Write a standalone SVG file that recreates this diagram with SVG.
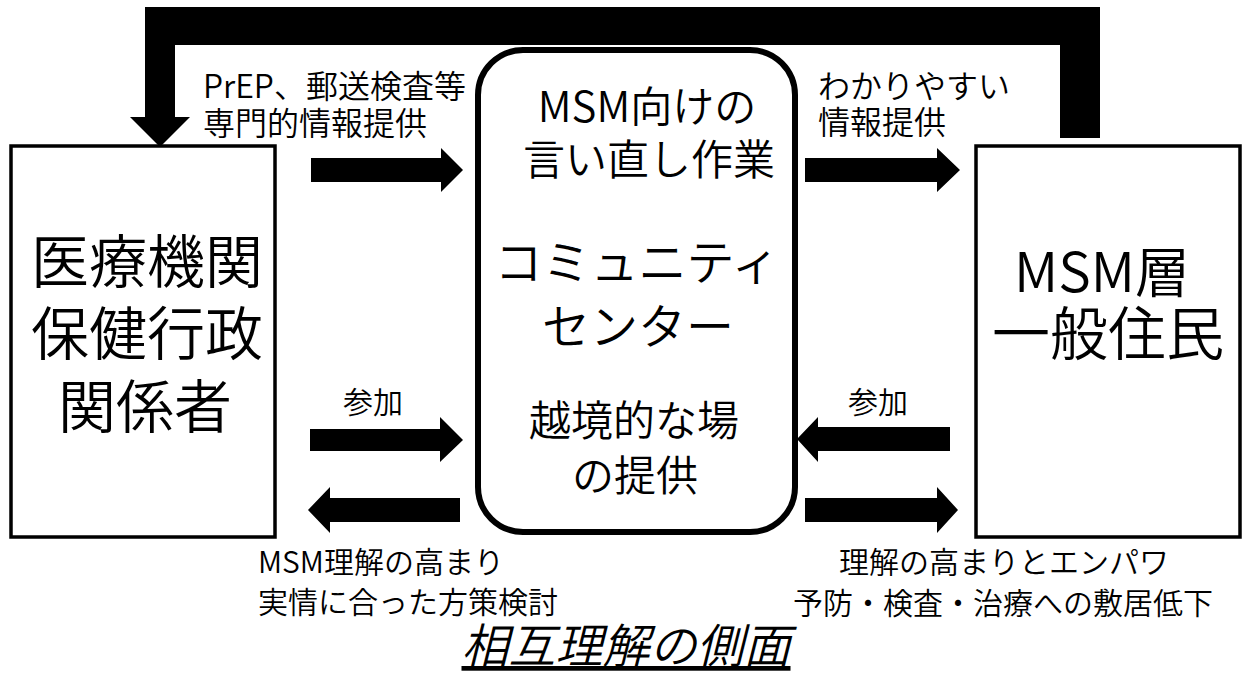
<svg xmlns="http://www.w3.org/2000/svg" width="1246" height="677" viewBox="0 0 1246 677">
<style>
text{font-family:"Noto Sans CJK JP","Noto Sans",sans-serif;fill:#000;font-weight:350}
.box{fill:#fff;stroke:#000;stroke-width:3.5}
.cbox{fill:#fff;stroke:#000;stroke-width:6}
.arr{fill:#000}
.lbl{font-size:32px}
.sm{font-size:30px}
.big{font-size:58px}
.mid{font-size:42px}
.cc{font-size:48px}
.mc{text-anchor:middle}
.title{font-size:47px;font-style:italic;text-decoration:underline;text-anchor:middle}
</style>
<rect width="1246" height="677" fill="#fff"/>
<g id="connectors">
<polygon class="arr" points="1100,138 1100,7 145,7 145,117 130,117 160,147 190,117 175,117 175,45 1060,45 1060,138"/>
<polygon class="arr" points="311,158 441,158 441,148 463,170 441,192 441,182 311,182"/>
<polygon class="arr" points="805,158 937,158 937,148 960,170 937,192 937,182 805,182"/>
<polygon class="arr" points="310,429 440,429 440,417 463,440 440,462 440,451 310,451"/>
<polygon class="arr" points="460,498 330,498 330,487 308,510 330,533 330,522 460,522"/>
<polygon class="arr" points="950,427 818,427 818,417 797,439 818,462 818,451 950,451"/>
<polygon class="arr" points="805,498 937,498 937,487 958,510 937,533 937,522 805,522"/>
</g>
<g id="node-left">
<rect class="box" x="11" y="146" width="264" height="391"/>
<text class="big mc"><tspan x="147" y="283">医療機関</tspan><tspan x="147" y="355">保健行政</tspan><tspan x="145" y="428">関係者</tspan></text>
</g>
<g id="node-center">
<rect class="cbox" x="478" y="50" width="317" height="482" rx="45"/>
<text class="mid mc"><tspan x="647" y="122">MSM向けの</tspan><tspan x="649" y="175">言い直し作業</tspan></text>
<text class="cc mc"><tspan x="637" y="280">コミュニティ</tspan><tspan x="638" y="344">センター</tspan></text>
<text class="mid mc"><tspan x="634" y="436">越境的な場</tspan><tspan x="635" y="491">の提供</tspan></text>
</g>
<g id="node-right">
<rect class="box" x="976" y="146" width="264" height="391"/>
<text class="big mc"><tspan x="1102" y="292" style="font-size:55px">MSM層</tspan><tspan x="1108" y="355">一般住民</tspan></text>
</g>
<g id="labels">
<text class="lbl"><tspan x="203" y="98">PrEP、郵送検査等</tspan><tspan x="203" y="135">専門的情報提供</tspan></text>
<text class="lbl"><tspan x="818" y="98">わかりやすい</tspan><tspan x="818" y="134">情報提供</tspan></text>
<text class="sm" x="343" y="413">参加</text>
<text class="sm" x="848" y="413">参加</text>
<text class="sm"><tspan x="258" y="573">MSM理解の高まり</tspan><tspan x="258" y="613">実情に合った方策検討</tspan></text>
<text class="sm mc"><tspan x="1004" y="573">理解の高まりとエンパワ</tspan><tspan x="1003" y="614">予防・検査・治療への敷居低下</tspan></text>
<text class="title" x="626" y="663">相互理解の側面</text>
</g>
</svg>
